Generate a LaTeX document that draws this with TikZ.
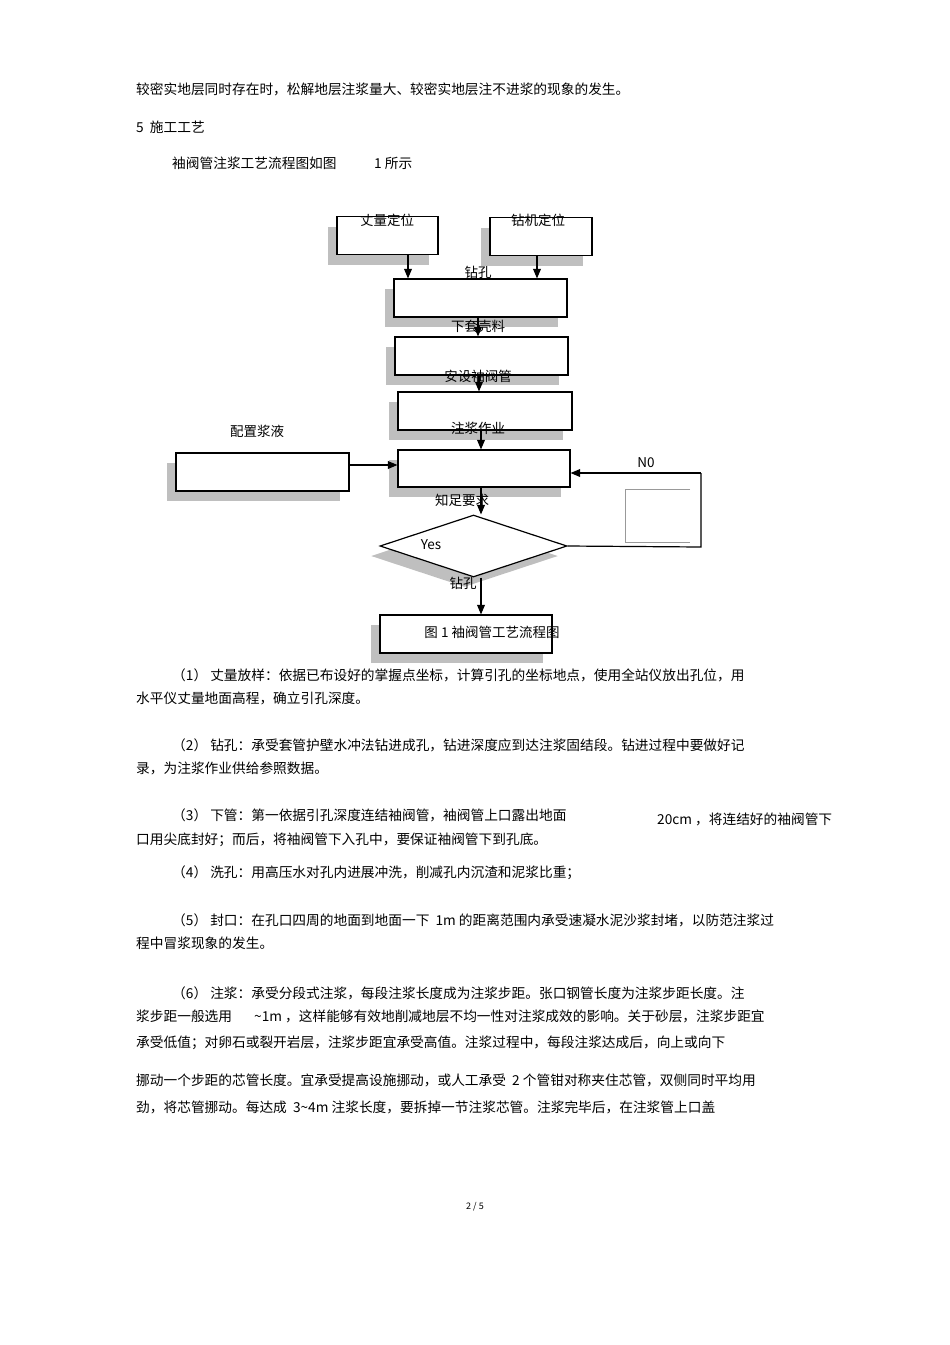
\documentclass[tikz,border=0pt]{standalone}
\usepackage{fontspec}
\setmainfont{Noto Sans CJK SC}
\usetikzlibrary{shapes.geometric,shadows,arrows}
\tikzset{
  flowbox/.style={draw,line width=1.2pt,fill=white,minimum width=172pt,minimum height=38pt,inner sep=0pt,
    drop shadow={shadow xshift=-9pt,shadow yshift=-10pt,fill=black!25,opacity=1}},
  txt/.style={anchor=west,inner sep=0pt,font=\fontsize{13.7}{15}\selectfont},
  lbl/.style={inner sep=0pt,font=\fontsize{13.5}{15}\selectfont},
  flow/.style={->,>=triangle 45,line width=1.2pt}
}
\begin{document}
\begin{tikzpicture}[x=1pt,y=-1pt]
\useasboundingbox (0,0) rectangle (950,1345);

% text above the chart
\node [txt] (p0) at (136,89) {较密实地层同时存在时，松解地层注浆量大、较密实地层注不进浆的现象的发生。};
\node [txt] (sec) at (136,127) {5\ \ 施工工艺};
\node [txt] (intro) at (172,163) {袖阀管注浆工艺流程图如图};
\node [txt] (introb) at (374,163) {1 所示};

% boxes
\node [flowbox,minimum width=101pt] (measure) at (387.5,235.5) {};
\node [flowbox,minimum width=102pt] (rig) at (541,236.5) {};
\node [flowbox,minimum width=173pt] (drill) at (480.5,298) {};
\node [flowbox,minimum width=173pt] (casing) at (481.5,356) {};
\node [flowbox,minimum width=174pt] (valve) at (485,411) {};
\node [flowbox,minimum width=172pt,minimum height=37pt] (grout) at (484,468.5) {};
\node [flowbox,minimum width=173pt] (mix) at (262.5,472) {};
\node [diamond,draw,line width=1.2pt,fill=white,aspect=3,minimum width=187pt,minimum height=62pt,inner sep=0pt,
  drop shadow={shadow xshift=-9pt,shadow yshift=-10pt,fill=black!25,opacity=1}] (check) at (473.5,546) {};
\node [flowbox,minimum width=172pt] (last) at (466,634) {};

% small open box
\draw [black!40,line width=0.8pt] (690,489) -- (625,489) -- (625,542) -- (690,542);
\coordinate (corner1) at (701,547);
\coordinate (corner2) at (701,473);

% labels
\node [lbl] (l1) at (387,220) {丈量定位};
\node [lbl] (l2) at (538,220) {钻机定位};
\node [lbl] (l3) at (478,272) {钻孔};
\node [lbl] (l4) at (478,326) {下套壳料};
\node [lbl] (l5) at (478,376) {安设袖阀管};
\node [lbl] (l6) at (478,428) {注浆作业};
\node [lbl] (l7) at (257,431) {配置浆液};
\node [lbl] (l8) at (646,463) {N0};
\node [lbl] (l9) at (462,500) {知足要求};
\node [lbl] (l10) at (431,545) {Yes};
\node [lbl] (l11) at (463,583) {钻孔};
\node [lbl] (l12) at (492,632) {图 1 袖阀管工艺流程图};

% connectors
\draw [flow] (measure.south -| 408,0) -- (drill.north -| 408,0);
\draw [flow] (rig.south -| 537,0) -- (drill.north -| 537,0);
\draw [flow] (drill.south -| 478,0) -- (casing.north -| 478,0);
\draw [flow] (casing.south -| 479,0) -- (valve.north -| 479,0);
\draw [flow] (valve.south -| 481,0) -- (grout.north -| 481,0);
\draw [flow] (mix.east |- 0,465) -- (grout.west |- 0,465);
\draw [flow] (grout.south -| 481,0) -- (check.north -| 481,0);
\draw [flow] (check.south -| 481,0) -- (last.north -| 481,0);
\draw [line width=1.2pt] (check.east) -- (corner1) -- (corner2);
\draw [flow] (corner2) -- (grout.east |- corner2);

% text below the chart
\node [txt] (s1a) at (172,675) {（1） 丈量放样：依据已布设好的掌握点坐标，计算引孔的坐标地点，使用全站仪放出孔位，用};
\node [txt] (s1b) at (136,698) {水平仪丈量地面高程，确立引孔深度。};
\node [txt] (s2a) at (172,745) {（2） 钻孔：承受套管护壁水冲法钻进成孔，钻进深度应到达注浆固结段。钻进过程中要做好记};
\node [txt] (s2b) at (136,768) {录，为注浆作业供给参照数据。};
\node [txt] (s3a) at (172,815) {（3） 下管：第一依据引孔深度连结袖阀管，袖阀管上口露出地面};
\node [txt] (s3x) at (657,819) {20cm ，将连结好的袖阀管下};
\node [txt] (s3b) at (136,840) {口用尖底封好；而后，将袖阀管下入孔中，要保证袖阀管下到孔底。};
\node [txt] (s4) at (172,873) {（4） 洗孔：用高压水对孔内进展冲洗，削减孔内沉渣和泥浆比重；};
\node [txt] (s5a) at (172,920) {（5） 封口：在孔口四周的地面到地面一下\ \ 1m 的距离范围内承受速凝水泥沙浆封堵，以防范注浆过};
\node [txt] (s5b) at (136,943) {程中冒浆现象的发生。};
\node [txt] (s6a) at (172,993) {（6） 注浆：承受分段式注浆，每段注浆长度成为注浆步距。张口钢管长度为注浆步距长度。注};
\node [txt] (s6b) at (136,1016) {浆步距一般选用};
\node [txt] (s6x) at (254,1016) {\textasciitilde 1m ，这样能够有效地削减地层不均一性对注浆成效的影响。关于砂层，注浆步距宜};
\node [txt] (s6c) at (136,1043) {承受低值；对卵石或裂开岩层，注浆步距宜承受高值。注浆过程中，每段注浆达成后，向上或向下};
\node [txt] (s6d) at (136,1080) {挪动一个步距的芯管长度。宜承受提高设施挪动，或人工承受\ \ 2 个管钳对称夹住芯管，双侧同时平均用};
\node [txt] (s6e) at (136,1107) {劲，将芯管挪动。每达成\ \ 3\textasciitilde 4m 注浆长度，要拆掉一节注浆芯管。注浆完毕后，在注浆管上口盖};
\node [inner sep=0pt,font=\fontsize{9}{10}\selectfont] (page) at (475,1207) {2 / 5};
\end{tikzpicture}
\end{document}
